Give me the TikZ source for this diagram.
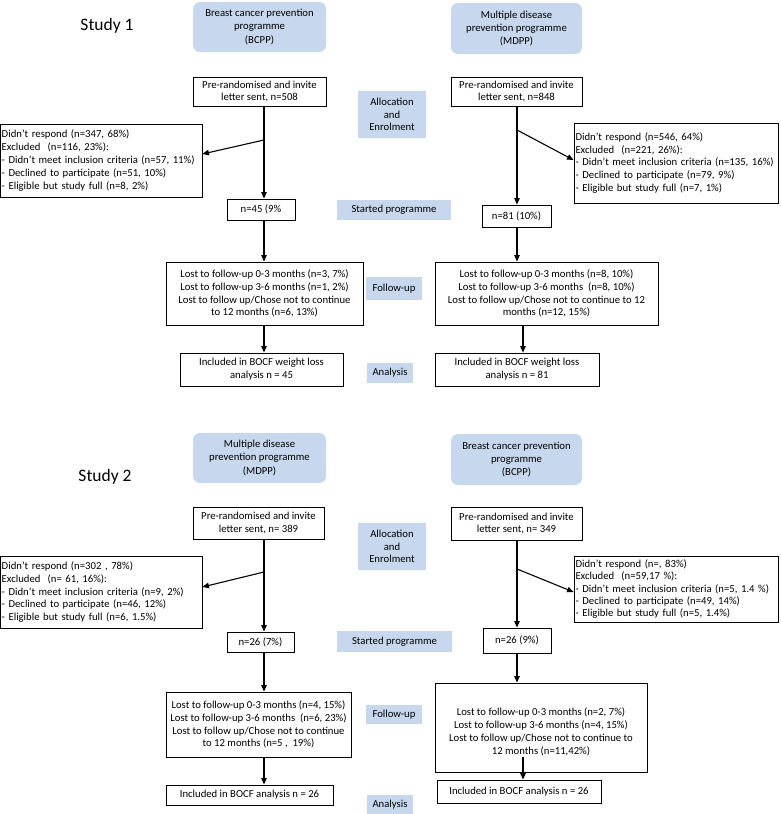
\documentclass[tikz,border=0pt]{standalone}
\usepackage{fontspec}
\setmainfont{Carlito}
\usetikzlibrary{arrows.meta,calc}
\definecolor{lblue}{RGB}{198,215,238}
\newcommand\myfs{\fontsize{10.7pt}{12.8pt}\selectfont}
\newcommand\titlefs{\fontsize{17.5pt}{20pt}\selectfont}
\tikzset{
  box/.style={draw=black, line width=0.9pt, fill=white, align=center, inner sep=1pt, font=\myfs, text=black},
  lbox/.style={box, align=left},
  head/.style={fill=lblue, rounded corners=7pt, align=center, inner sep=1pt, font=\fontsize{10.7pt}{13.3pt}\selectfont, text=black},
  tag/.style={fill=lblue, align=center, inner sep=1pt, font=\myfs, text=black},
  arr/.style={line width=1.1pt, -{Triangle[length=6.5pt,width=5.5pt]}},
  ttl/.style={font=\titlefs, text=black}
}
\begin{document}
\begin{tikzpicture}[x=1pt,y=-1pt]
\useasboundingbox (0,0) rectangle (780,814);
% ---------------- Study 1 ----------------
\node[ttl] (t1) at (107,26) {Study 1};
\node[head, minimum width=133pt, minimum height=50pt] (hA1) at (259.5,27) {Breast cancer prevention\\programme\\(BCPP)};
\node[head, minimum width=131pt, minimum height=51pt] (hB1) at (516.5,28.5) {Multiple disease\\prevention programme\\(MDPP)};
\node[box, minimum width=133pt, minimum height=29pt] (pA1) at (259.5,91.5) {Pre-randomised and invite\\letter sent, n=508};
\node[box, minimum width=131pt, minimum height=29pt] (pB1) at (516.5,91.5) {Pre-randomised and invite\\letter sent, n=848};
\node[tag, minimum width=68pt, minimum height=47pt] (al1) at (392,114.5) {Allocation\\and\\Enrolment};
\node[lbox, minimum width=201.5pt, minimum height=73pt, text width=199pt] (exA1) at (101.25,160.5) {Didn’t respond (n=347, 68\%)\\Excluded\ \ (n=116, 23\%):\\- Didn’t meet inclusion criteria (n=57, 11\%)\\- Declined to participate (n=51, 10\%)\\- Eligible but study full (n=8, 2\%)};
\node[lbox, minimum width=204pt, minimum height=80pt, text width=201pt] (exB1) at (676,163) {Didn’t respond (n=546, 64\%)\\Excluded\ \ (n=221, 26\%):\\\mbox{- Didn’t meet inclusion criteria (n=135, 16\%)}\\- Declined to participate (n=79, 9\%)\\- Eligible but study full (n=7, 1\%)};
\node[box, minimum width=68pt, minimum height=21pt] (nA1) at (261,209.5) {n=45 (9\%};
\node[box, minimum width=69pt, minimum height=22pt] (nB1) at (516.5,216) {n=81 (10\%)};
\node[tag, minimum width=114pt, minimum height=20pt] (st1) at (394,210) {Started programme};
\node[box, minimum width=197pt, minimum height=63pt] (fuA1) at (264.5,293.5) {Lost to follow-up 0-3 months (n=3, 7\%)\\Lost to follow-up 3-6 months (n=1, 2\%)\\Lost to follow up/Chose not to continue\\to 12 months (n=6, 13\%)};
\node[box, minimum width=223pt, minimum height=63pt] (fuB1) at (546.5,293.5) {Lost to follow-up 0-3 months (n=8, 10\%)\\Lost to follow-up 3-6 months\ \ (n=8, 10\%)\\Lost to follow up/Chose not to continue to 12\\months (n=12, 15\%)};
\node[tag, minimum width=56pt, minimum height=23pt] (fl1) at (394,288.5) {Follow-up};
\node[box, minimum width=163pt, minimum height=33pt] (anA1) at (261.5,369.5) {Included in BOCF weight loss\\analysis n = 45};
\node[box, minimum width=164pt, minimum height=33pt] (anB1) at (517,369.5) {Included in BOCF weight loss\\analysis n = 81};
\node[tag, minimum width=46pt, minimum height=20pt] (as1) at (390,373) {Analysis};
% connectors study 1
\coordinate (colA1) at (264,0);
\coordinate (colB1) at (517,0);
\coordinate (colB1b) at (523,0);
\coordinate (dA1) at (264,140);
\coordinate (eA1) at (0,154);
\coordinate (dB1) at (517,130);
\coordinate (eB1) at (0,160);
\draw[line width=1.1pt] (pA1.south -| colA1) -- (dA1);
\draw[arr] (dA1) -- (nA1.north -| colA1);
\draw[arr] (dA1) -- (exA1.east |- eA1);
\draw[line width=1.1pt] (pB1.south -| colB1) -- (dB1);
\draw[arr] (dB1) -- (nB1.north -| colB1);
\draw[arr] (dB1) -- (exB1.west |- eB1);
\draw[arr] (nA1.south -| colA1) -- (fuA1.north -| colA1);
\draw[arr] (nB1.south -| colB1) -- (fuB1.north -| colB1);
\draw[arr] (fuA1.south -| colA1) -- (anA1.north -| colA1);
\draw[arr] (fuB1.south -| colB1b) -- (anB1.north -| colB1b);
% ---------------- Study 2 ----------------
\node[ttl] (t2) at (105,477) {Study 2};
\node[head, minimum width=133pt, minimum height=50pt] (hA2) at (259.5,458) {Multiple disease\\prevention programme\\(MDPP)};
\node[head, minimum width=131pt, minimum height=51pt] (hB2) at (516.5,459.5) {Breast cancer prevention\\programme\\(BCPP)};
\node[box, minimum width=131pt, minimum height=32pt] (pA2) at (258.5,523) {Pre-randomised and invite\\letter sent, n= 389};
\node[box, minimum width=131pt, minimum height=33pt] (pB2) at (516.5,523.5) {Pre-randomised and invite\\letter sent, n= 349};
\node[tag, minimum width=68pt, minimum height=47pt] (al2) at (392,546.5) {Allocation\\and\\Enrolment};
\node[lbox, minimum width=201.5pt, minimum height=72pt, text width=199pt] (exA2) at (101.25,592) {Didn’t respond (n=302 , 78\%)\\Excluded\ \ (n= 61, 16\%):\\- Didn’t meet inclusion criteria (n=9, 2\%)\\- Declined to participate (n=46, 12\%)\\- Eligible but study full (n=6, 1.5\%)};
\node[lbox, minimum width=204pt, minimum height=66pt, text width=201pt, font=\fontsize{10.7pt}{12.3pt}\selectfont] (exB2) at (676,589) {Didn’t respond (n=, 83\%)\\Excluded\ \ (n=59,17 \%):\\\mbox{- Didn’t meet inclusion criteria (n=5, 1.4 \%)}\\- Declined to participate (n=49, 14\%)\\- Eligible but study full (n=5, 1.4\%)};
\node[box, minimum width=67pt, minimum height=20pt] (nA2) at (260.5,642) {n=26 (7\%)};
\node[box, minimum width=68pt, minimum height=25pt] (nB2) at (517,640.5) {n=26 (9\%)};
\node[tag, minimum width=115pt, minimum height=21pt] (st2) at (394.5,641.5) {Started programme};
\node[box, minimum width=185pt, minimum height=65pt] (fuA2) at (258.5,724.5) {Lost to follow-up 0-3 months (n=4, 15\%)\\Lost to follow-up 3-6 months\ \ (n=6, 23\%)\\Lost to follow up/Chose not to continue\\to 12 months (n=5\ ,\ \ 19\%)};
\node[box, minimum width=212pt, minimum height=89pt] (fuB2) at (541,727.5) {};
\node[font=\myfs, text=black, align=center, inner sep=0pt] (fuB2t) at (541,732) {Lost to follow-up 0-3 months (n=2, 7\%)\\Lost to follow-up 3-6 months (n=4, 15\%)\\Lost to follow up/Chose not to continue to\\12 months (n=11,42\%)};
\node[tag, minimum width=56pt, minimum height=19pt] (fl2) at (394,714.5) {Follow-up};
\node[box, minimum width=167pt, minimum height=20pt] (anA2) at (249.5,795) {Included in BOCF analysis n = 26};
\node[box, minimum width=164pt, minimum height=23pt] (anB2) at (519,791.5) {Included in BOCF analysis n = 26};
\node[tag, minimum width=46pt, minimum height=19pt] (as2) at (390,804.5) {Analysis};
% connectors study 2
\coordinate (colA2) at (264,0);
\coordinate (colB2) at (517,0);
\coordinate (dA2) at (264,572);
\coordinate (eA2) at (0,587);
\coordinate (dB2) at (517,569);
\coordinate (eB2) at (0,592);
\coordinate (sB2) at (523,757);
\draw[line width=1.1pt] (pA2.south -| colA2) -- (dA2);
\draw[arr] (dA2) -- (nA2.north -| colA2);
\draw[arr] (dA2) -- (exA2.east |- eA2);
\draw[line width=1.1pt] (pB2.south -| colB2) -- (dB2);
\draw[arr] (dB2) -- (nB2.north -| colB2);
\draw[arr] (dB2) -- (exB2.west |- eB2);
\draw[arr] (nA2.south -| colA2) -- (fuA2.north -| colA2);
\draw[arr] (nB2.south -| colB2) -- (fuB2.north -| colB2);
\draw[arr] (fuA2.south -| colA2) -- (anA2.north -| colA2);
\draw[arr] (sB2) -- (anB2.north -| sB2);
\end{tikzpicture}
\end{document}
